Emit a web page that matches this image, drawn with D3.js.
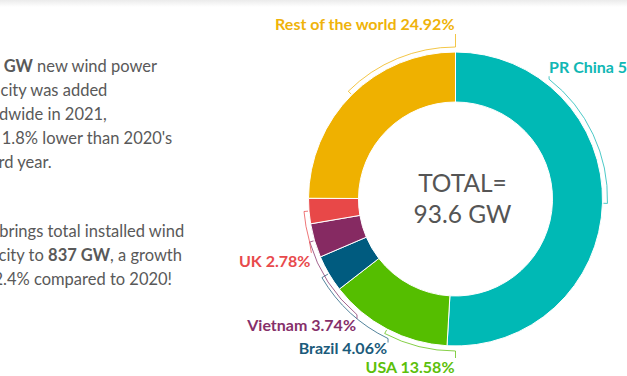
<!DOCTYPE html>
<html>
<head>
<meta charset="utf-8">
<script src="https://cdn.jsdelivr.net/npm/d3@7"></script>
<style>
  body { margin: 0; background: #fff; overflow: hidden; }
  svg { display: block; font-family: Lato, "Open Sans", sans-serif; }
</style>
</head>
<body>
<div id="chart"></div>
<script>
// 2021 new wind installations, share by market (%)
const markets = ["PR China", "USA", "Brazil", "Vietnam", "UK", "Rest of the world"];
const shares = [50.92, 13.58, 4.06, 3.74, 2.78, 24.92];
const colors = ["#00b9b5", "#55be00", "#005b7f", "#862a62", "#e84848", "#efb100"];
const labelColors = ["#10b7b4", "#5cbf0a", "#1b5b7b", "#86306a", "#e84a4c", "#efb30a"];

const totalLines = ["TOTAL=", "93.6 GW"];

const para1 = [
    [{t: "93.6 GW", b: true}, {t: " new wind power"}],
    [{t: "capacity was added"}],
    [{t: "worldwide in 2021,"}],
    [{t: "only 1.8% lower than 2020's"}],
    [{t: "record year."}]
];
const para2 = [
    [{t: "This brings total installed wind"}],
    [{t: "capacity to "}, {t: "837 GW", b: true}, {t: ", a growth"}],
    [{t: "of 12.4% compared to 2020!"}]
];

const width = 627, height = 376;
const cx = 455.5, cy = 199;
const outerR = 147, innerR = 97;

// where each callout leaves the ring (degrees clockwise from top), offset, drop, label nudge
const callouts = {
    "PR China":          {end: 38,    off: 5, dx: 0,  drop: -3, ly: -3, anchor: "start"},
    "USA":               {end: 180,   off: 5, dx: 0,  drop: 7,  ly: 15, anchor: "end"},
    "Brazil":            {end: 205.8, off: 8, dx: 0,  drop: 4,  ly: 11, anchor: "end"},
    "Vietnam":           {end: 220.4, off: 5, dx: 0,  drop: 4,  ly: 12, anchor: "end"},
    "UK":                {end: 254,   off: 5, dx: 2,  drop: 12, ly: 14, anchor: "end"},
    "Rest of the world": {end: 360,   off: 5, dx: 0,  drop: -13, ly: -4, anchor: "end"}
};

const svg = d3.select("#chart").append("svg")
    .attr("width", width)
    .attr("height", height);

const grad = svg.append("defs").append("linearGradient")
    .attr("id", "topShade").attr("x1", 0).attr("x2", 0).attr("y1", 0).attr("y2", 1);
grad.append("stop").attr("offset", 0).attr("stop-color", "#ebebeb");
grad.append("stop").attr("offset", 1).attr("stop-color", "#ffffff");
svg.append("rect").attr("width", width).attr("height", 7).attr("fill", "url(#topShade)");

// left paragraphs (cut off by the frame on the left)
function writeParagraph(lines, x, y0, step) {
    lines.forEach((line, i) => {
        const t = svg.append("text")
            .attr("x", x)
            .attr("y", y0 + i * step)
            .attr("font-size", 16.5)
            .attr("fill", "#595959");
        line.forEach(part => {
            t.append("tspan")
                .attr("font-weight", part.b ? 700 : 400)
                .text(part.t);
        });
    });
}
writeParagraph(para1, -33, 72, 24);
writeParagraph(para2, -35, 237, 24);

const g = svg.append("g").attr("transform", `translate(${cx},${cy})`);

const pie = d3.pie().sort(null).value(d => d).startAngle(0).endAngle(2 * Math.PI);
const arcs = pie(shares);

const arc = d3.arc().innerRadius(innerR).outerRadius(outerR);

g.selectAll("path.slice")
    .data(arcs)
    .enter()
    .append("path")
    .attr("class", "slice")
    .attr("d", arc)
    .attr("fill", (d, i) => colors[i])
    .attr("stroke", "#fff")
    .attr("stroke-width", 1);

const pt = (a, r) => [r * Math.sin(a), -r * Math.cos(a)];
const rad = deg => deg * Math.PI / 180;

arcs.forEach((d, i) => {
    const c = callouts[markets[i]];
    const mid = (d.startAngle + d.endAngle) / 2;
    const end = rad(c.end);
    const r = outerR + c.off;

    const p = d3.path();
    const t0 = pt(mid, outerR + 1);
    p.moveTo(t0[0], t0[1]);
    const t1 = pt(mid, r);
    p.lineTo(t1[0], t1[1]);
    p.arc(0, 0, r, mid - Math.PI / 2, end - Math.PI / 2, end < mid);
    const e = pt(end, r);
    const lx = e[0] + c.dx, ly = e[1] + c.drop;
    p.lineTo(lx, ly);

    g.append("path")
        .attr("d", p.toString())
        .attr("fill", "none")
        .attr("stroke", labelColors[i])
        .attr("stroke-opacity", 0.75)
        .attr("stroke-width", 1);

    g.append("text")
        .attr("x", lx + (c.anchor === "end" ? -1 : 0))
        .attr("y", ly + c.ly)
        .attr("text-anchor", c.anchor)
        .attr("font-size", 16)
        .attr("font-weight", 700)
        .attr("fill", labelColors[i])
        .text(`${markets[i]} ${shares[i].toFixed(2)}%`);
});

g.selectAll("text.total")
    .data(totalLines)
    .enter()
    .append("text")
    .attr("class", "total")
    .attr("x", 7)
    .attr("y", (d, i) => -7 + i * 31)
    .attr("text-anchor", "middle")
    .attr("font-size", 24.5)
    .attr("font-weight", 400)
    .attr("fill", "#555")
    .text(d => d);
</script>
</body>
</html>
